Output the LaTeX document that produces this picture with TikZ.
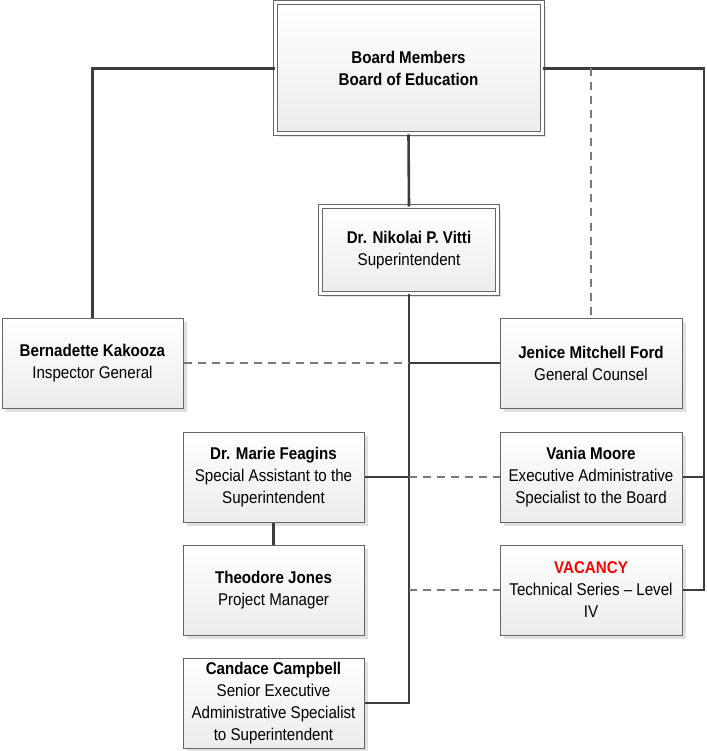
\documentclass[tikz,border=0pt]{standalone}
\usepackage{fontspec}
\setmainfont{Liberation Sans}[FakeStretch=0.89]
\usetikzlibrary{shadows}
\definecolor{conn}{HTML}{3C3C3C}
\definecolor{dconn}{HTML}{7A7A7A}
\definecolor{bord}{HTML}{666666}
\definecolor{boxbot}{HTML}{ECECEC}
\definecolor{vacred}{HTML}{FF0000}
\tikzset{
  card/.style={draw=bord, line width=1pt, shading=axis, top color=white, bottom color=boxbot,
    drop shadow={shadow xshift=3.5pt, shadow yshift=-3.5pt, fill=black, opacity=0.12},
    align=center, inner sep=2pt, font=\fontsize{17}{22}\selectfont},
  dcard/.style={card, double=white, double distance=3pt, line width=1pt},
  solidline/.style={draw=conn, line width=2.6pt},
  dashline/.style={draw=dconn, line width=1.4pt, dash pattern=on 8pt off 6pt},
}
\begin{document}
\begin{tikzpicture}[x=1pt,y=-1pt]
\useasboundingbox (0,0) rectangle (706,751);
\coordinate (rc) at (704,0);
% boxes
\node[dcard, minimum width=267, minimum height=131] (board) at (408.5,68.5) {\textbf{Board Members}\\\textbf{Board of Education}};
\node[dcard, minimum width=177, minimum height=86] (vitti) at (409,250) {\textbf{Dr. Nikolai P. Vitti}\\Superintendent};
\node[card, minimum width=181, minimum height=90] (bern) at (92.5,363) {\textbf{Bernadette Kakooza}\\Inspector General};
\node[card, minimum width=182, minimum height=90] (jen) at (591,363) {\textbf{Jenice Mitchell Ford}\\General Counsel};
\node[card, minimum width=181, minimum height=90] (marie) at (273.5,477) {\textbf{Dr. Marie Feagins}\\Special Assistant to the\\Superintendent};
\node[card, minimum width=182, minimum height=90] (vania) at (591,477) {\textbf{Vania Moore}\\Executive Administrative\\Specialist to the Board};
\node[card, minimum width=181, minimum height=90] (theo) at (273.5,590) {\textbf{Theodore Jones}\\Project Manager};
\node[card, minimum width=182, minimum height=90] (vac) at (591,590) {\textcolor{vacred}{\textbf{VACANCY}}\\Technical Series – Level\\IV};
\node[card, minimum width=181, minimum height=90] (cand) at (273.5,703) {\textbf{Candace Campbell}\\Senior Executive\\Administrative Specialist\\to Superintendent};
% connectors
\draw[solidline] (board.west) -| (bern.north);
\draw[solidline] (board.south) -- (vitti.north);
\draw[solidline] (board.east) -| (vac.east -| rc) -- (vac.east);
\draw[solidline] (vania.east) -- (vania.east -| rc);
\draw[dashline] (board.east -| jen.north) -- (jen.north);
\draw[solidline] (vitti.south) |- (cand.east);
\draw[solidline] (jen.west) -- (jen.west -| vitti.south);
\draw[dashline] (bern.east) -- (bern.east -| vitti.south);
\draw[solidline] (marie.east) -- (marie.east -| vitti.south);
\draw[dashline] (marie.east -| vitti.south) -- (vania.west);
\draw[solidline] (marie.south) -- (theo.north);
\draw[dashline] (vac.west -| vitti.south) -- (vac.west);
\end{tikzpicture}
\end{document}
